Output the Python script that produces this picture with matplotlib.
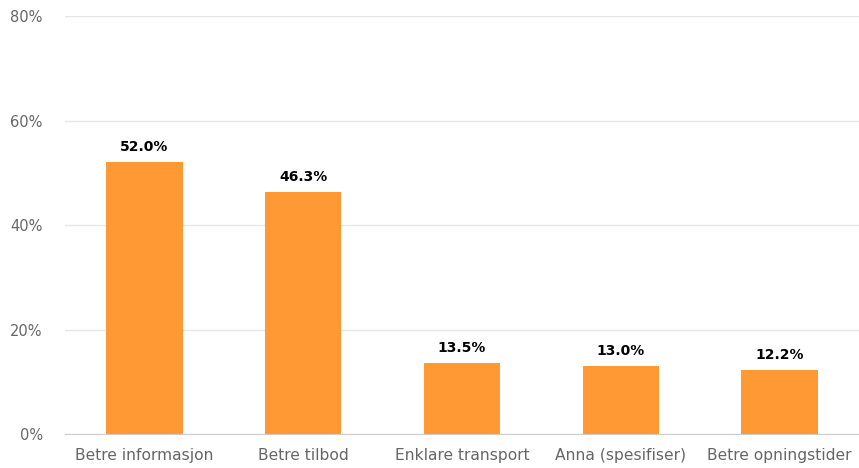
import matplotlib
matplotlib.use('Agg')
import matplotlib.pyplot as plt
from matplotlib.ticker import FuncFormatter

plt.rcParams['font.family'] = ['DejaVu Sans']

categories = ['Betre informasjon', 'Betre tilbod', 'Enklare transport',
              'Anna (spesifiser)', 'Betre opningstider']
values = [52.0, 46.3, 13.5, 13.0, 12.2]
yticks = [0, 20, 40, 60, 80]

fig = plt.figure(figsize=(8.59, 4.68), dpi=100)
ax = fig.add_axes([0.0757, 0.0726, 0.9243, 0.8932])

x = range(len(categories))
bars = ax.bar(x, values, width=0.48, color='#ff9933', zorder=2)
for b, v in zip(bars, values):
    ax.annotate(f'{v:.1f}%', (b.get_x() + b.get_width() / 2, v),
                xytext=(0, 6), textcoords='offset points',
                ha='center', va='bottom', fontsize=10, fontweight='bold',
                color='#000000')

ax.set_xlim(-0.5, len(categories) - 0.5)
ax.set_ylim(0, 80)
ax.set_yticks(yticks)
ax.yaxis.set_major_formatter(FuncFormatter(lambda v, p: f'{v:.0f}%'))
ax.set_xticks(list(x))
ax.set_xticklabels(categories)
ax.tick_params(axis='both', length=0, labelcolor='#666666')
ax.tick_params(axis='y', pad=16, labelsize=10.5)
ax.tick_params(axis='x', pad=10, labelsize=11.2)
ax.grid(axis='y', color='#e6e6e6', linewidth=1, zorder=0)
for s in ['top', 'right', 'left']:
    ax.spines[s].set_visible(False)
ax.spines['bottom'].set_color('#cccccc')
ax.spines['bottom'].set_zorder(3)

fig.savefig('out.png', dpi=100)
